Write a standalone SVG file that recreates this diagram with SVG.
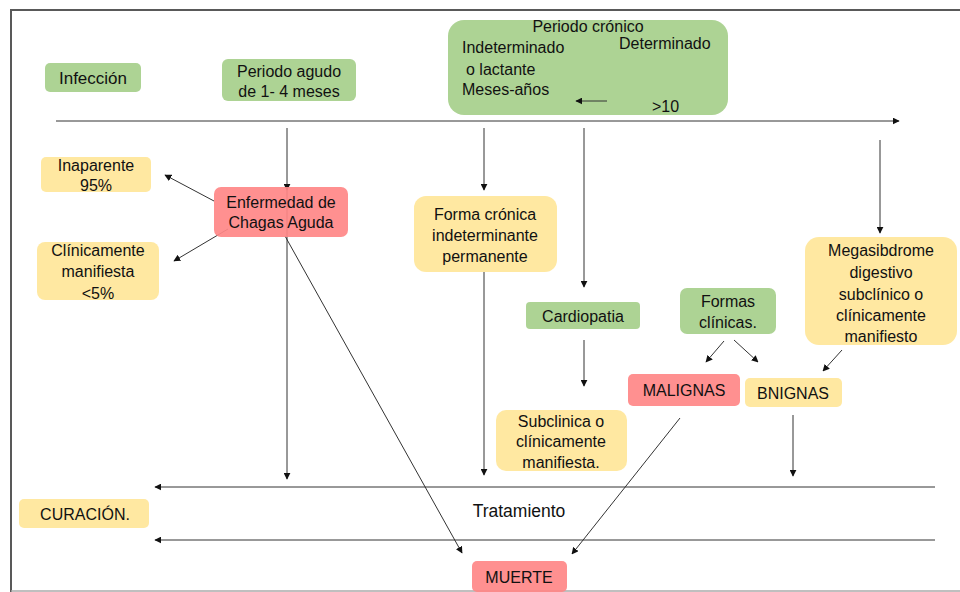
<svg xmlns="http://www.w3.org/2000/svg" width="960" height="592" viewBox="0 0 960 592">
<style>
text{font-family:"Liberation Sans",Arial,sans-serif;font-size:16px;fill:#111;text-anchor:middle}
.g{fill:#A9D18E;fill-opacity:.95}
.y{fill:#FFE699;fill-opacity:.92}
.r{fill:#FF8787;fill-opacity:.92}
.c{stroke:#333;stroke-width:1;fill:none;marker-end:url(#ah)}
.frame{stroke:#595959;stroke-width:2;fill:none}
</style>
<defs>
<marker id="ah" viewBox="0 0 10 10" refX="9" refY="5" markerWidth="7" markerHeight="7" markerUnits="userSpaceOnUse" orient="auto">
<path d="M0,0 L10,5 L0,10 z" fill="#111"/>
</marker>
</defs>
<rect width="960" height="592" fill="#fff"/>
<path class="frame" d="M11,592 V10 H960"/>
<line x1="11" y1="591" x2="960" y2="591" stroke="#aaa" stroke-width="1.5"/>
<g id="connectors">
<line class="c" x1="56" y1="121" x2="899" y2="121"/>
<line class="c" x1="287" y1="128" x2="287" y2="190"/>
<line class="c" x1="287" y1="190" x2="287" y2="479"/>
<line class="c" x1="214" y1="201" x2="165" y2="175"/>
<line class="c" x1="228" y1="229" x2="174" y2="261"/>
<line class="c" x1="285" y1="236" x2="462" y2="553"/>
<line class="c" x1="484" y1="128" x2="484" y2="190"/>
<line class="c" x1="484" y1="272" x2="484" y2="475"/>
<line class="c" x1="584" y1="128" x2="584" y2="287"/>
<line class="c" x1="584" y1="340" x2="584" y2="386"/>
<line class="c" x1="880" y1="140" x2="880" y2="233"/>
<line class="c" x1="724" y1="341" x2="706" y2="362"/>
<line class="c" x1="734" y1="340" x2="758" y2="362"/>
<line class="c" x1="842" y1="350" x2="823" y2="371"/>
<line class="c" x1="680" y1="418" x2="572" y2="554"/>
<line class="c" x1="793" y1="415" x2="793" y2="476"/>
<line class="c" x1="935" y1="487" x2="155" y2="487"/>
<line class="c" x1="935" y1="540" x2="155" y2="540"/>
</g>
<g id="infeccion"><rect class="g" x="45" y="63" width="96" height="29" rx="5"/><text x="93" y="84" style="font-size:17px">Infección</text></g>
<g id="agudo"><rect class="g" x="222" y="59" width="134" height="42" rx="6"/><text x="289" y="77">Periodo agudo</text><text x="289" y="97">de 1- 4 meses</text></g>
<g id="cronico"><rect class="g" x="448" y="20" width="280" height="95" rx="16"/>
<text x="588" y="32">Periodo crónico</text>
<text x="462" y="53" style="text-anchor:start">Indeterminado</text>
<text x="619" y="49" style="text-anchor:start">Determinado</text>
<text x="466" y="75" style="text-anchor:start">o lactante</text>
<text x="462" y="95" style="text-anchor:start">Meses-años</text>
<text x="652" y="112" style="text-anchor:start">&gt;10</text>
<line class="c" x1="607" y1="101" x2="576" y2="101"/></g>
<g id="inaparente"><rect class="y" x="41" y="157" width="110" height="35" rx="5"/><text x="96" y="171">Inaparente</text><text x="96" y="191">95%</text></g>
<g id="aguda"><rect class="r" x="214" y="187" width="134" height="50" rx="7"/><text x="281" y="208">Enfermedad de</text><text x="281" y="228">Chagas Aguda</text></g>
<g id="clinicamente"><rect class="y" x="37" y="242" width="122" height="58" rx="8"/><text x="98" y="256">Clínicamente</text><text x="98" y="277">manifiesta</text><text x="98" y="299">&lt;5%</text></g>
<g id="forma"><rect class="y" x="414" y="196" width="143" height="76" rx="12"/><text x="485" y="220">Forma crónica</text><text x="485" y="241">indeterminante</text><text x="485" y="262">permanente</text></g>
<g id="cardiopatia"><rect class="g" x="526" y="302" width="114" height="27" rx="4"/><text x="583" y="322">Cardiopatia</text></g>
<g id="formas"><rect class="g" x="680" y="288" width="96" height="46" rx="7"/><text x="728" y="307">Formas</text><text x="728" y="328">clínicas.</text></g>
<g id="mega"><rect class="y" x="805" y="237" width="152" height="108" rx="14"/><text x="881" y="256">Megasibdrome</text><text x="881" y="278">digestivo</text><text x="881" y="300">subclínico o</text><text x="881" y="321">clínicamente</text><text x="881" y="342">manifiesto</text></g>
<g id="malignas"><rect class="r" x="628" y="374" width="112" height="32" rx="5"/><text x="684" y="396">MALIGNAS</text></g>
<g id="bnignas"><rect class="y" x="745" y="378" width="97" height="29" rx="5"/><text x="793" y="399">BNIGNAS</text></g>
<g id="subclinica"><rect class="y" x="496" y="410" width="131" height="61" rx="10"/><text x="561" y="427">Subclinica o</text><text x="561" y="447">clínicamente</text><text x="561" y="468">manifiesta.</text></g>
<g id="tratamiento"><text x="519" y="517" style="font-size:17.5px">Tratamiento</text></g>
<g id="curacion"><rect class="y" x="19" y="499" width="130" height="29" rx="5"/><text x="85" y="520">CURACIÓN.</text></g>
<g id="muerte"><rect class="r" x="472" y="561" width="95" height="31" rx="5"/><text x="519" y="583">MUERTE</text></g>
</svg>
